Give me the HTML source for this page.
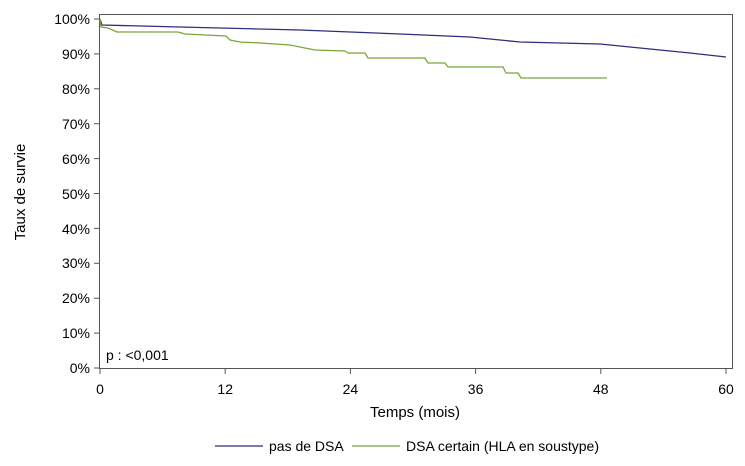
<!DOCTYPE html>
<html><head><style>
body{margin:0;background:#fff;}
svg{display:block;font-family:"Liberation Sans",Arial,sans-serif;}
</style></head><body>
<svg width="745" height="466" viewBox="0 0 745 466">
<rect x="99.5" y="14.5" width="633" height="354" fill="none" stroke="#555" stroke-width="1"/>
<g stroke="#555" stroke-width="1">
<line x1="94" y1="19" x2="99" y2="19"/><line x1="94" y1="53.9" x2="99" y2="53.9"/><line x1="94" y1="88.8" x2="99" y2="88.8"/><line x1="94" y1="123.7" x2="99" y2="123.7"/><line x1="94" y1="158.6" x2="99" y2="158.6"/><line x1="94" y1="193.5" x2="99" y2="193.5"/><line x1="94" y1="228.4" x2="99" y2="228.4"/><line x1="94" y1="263.3" x2="99" y2="263.3"/><line x1="94" y1="298.2" x2="99" y2="298.2"/><line x1="94" y1="333.1" x2="99" y2="333.1"/><line x1="94" y1="368" x2="99" y2="368"/>
<line x1="100" y1="369" x2="100" y2="374"/><line x1="225.2" y1="369" x2="225.2" y2="374"/><line x1="350.4" y1="369" x2="350.4" y2="374"/><line x1="475.6" y1="369" x2="475.6" y2="374"/><line x1="600.8" y1="369" x2="600.8" y2="374"/><line x1="726" y1="369" x2="726" y2="374"/>
</g>
<g font-size="14" fill="#000" text-anchor="end">
<text x="90" y="24">100%</text><text x="90" y="59">90%</text><text x="90" y="94">80%</text><text x="90" y="129">70%</text><text x="90" y="164">60%</text><text x="90" y="199">50%</text><text x="90" y="234">40%</text><text x="90" y="268">30%</text><text x="90" y="303">20%</text><text x="90" y="338">10%</text><text x="90" y="373">0%</text>
</g>
<g font-size="14" fill="#000" text-anchor="middle">
<text x="100" y="394">0</text><text x="225.2" y="394">12</text><text x="350.4" y="394">24</text><text x="475.6" y="394">36</text><text x="600.8" y="394">48</text><text x="726" y="394">60</text>
<text x="415" y="417" font-size="15">Temps (mois)</text>
</g>
<text transform="translate(25,192) rotate(-90)" font-size="15" text-anchor="middle">Taux de survie</text>
<text x="106" y="360" font-size="14">p : &lt;0,001</text>
<polyline fill="none" stroke="#2e2e7e" stroke-width="1.3" points="100,19 102,25 180,27 300,30 400,34 470,37 500,40 520,42 600,44 620,46 650,49 690,53 726,57"/>
<polyline fill="none" stroke="#7ea53a" stroke-width="1.3" points="100,19 101,27 108,28 117,32 178,32 185,34 205,35 226,36 230,40 240,42 260,43 290,45 315,50 345,51 348,53 365,53 368,58 425,58 428,63 445,63 448,67 503,67 506,73 518,73 521,78 607,78"/>
<line x1="215" y1="446" x2="263" y2="446" stroke="#2e2e7e" stroke-width="1.3"/>
<text x="269" y="451" font-size="14">pas de DSA</text>
<line x1="352" y1="446" x2="400" y2="446" stroke="#7ea53a" stroke-width="1.3"/>
<text x="406" y="451" font-size="14">DSA certain (HLA en soustype)</text>
</svg>
</body></html>
